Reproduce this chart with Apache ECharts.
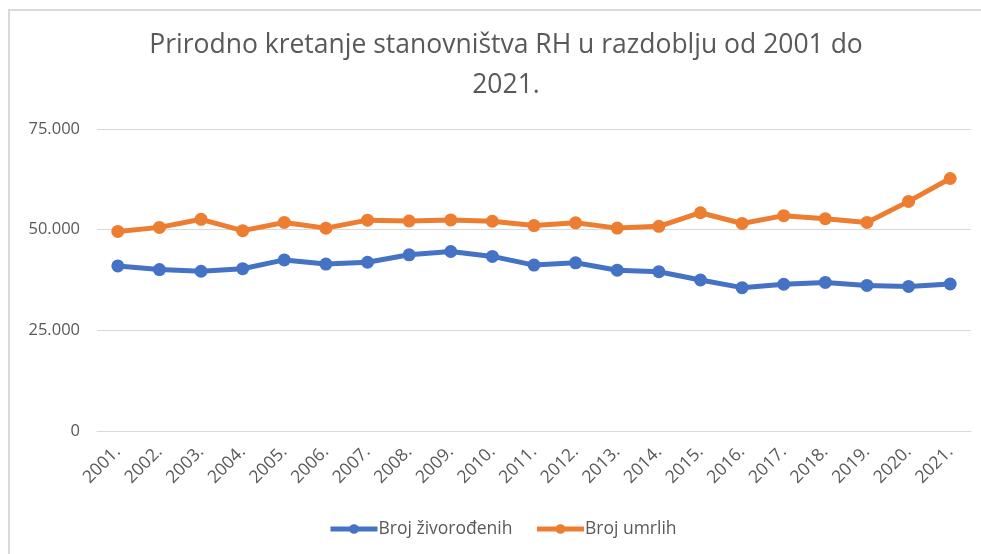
<!DOCTYPE html>
<html>
<head>
<meta charset="utf-8">
<script src="https://cdn.jsdelivr.net/npm/echarts@6/dist/echarts.min.js"></script>
<style>
  html, body { margin: 0; padding: 0; background: #fff; }
  #chart { width: 981px; height: 554px; }
</style>
</head>
<body>
<div id="chart"></div>
<script>
// godine
const years = ['2001.', '2002.', '2003.', '2004.', '2005.', '2006.', '2007.',
  '2008.', '2009.', '2010.', '2011.', '2012.', '2013.', '2014.', '2015.',
  '2016.', '2017.', '2018.', '2019.', '2020.', '2021.'];

// broj živorođenih
const births = [40993, 40094, 39668, 40307, 42492, 41446, 41910, 43753, 44577,
  43361, 41197, 41771, 39939, 39566, 37503, 35600, 36450, 36900, 36150, 35900, 36500];

// broj umrlih
const deaths = [49552, 50569, 52575, 49756, 51790, 50378, 52367, 52151, 52414,
  52096, 51019, 51710, 50386, 50839, 54205, 51542, 53477, 52706, 51794, 57023, 62712];

const seriesNames = ['Broj živorođenih', 'Broj umrlih'];
const titleLines = ['Prirodno kretanje stanovništva RH u razdoblju od 2001 do', '2021.'];

const font = '"Open Sans", "Liberation Sans", sans-serif';
const textColor = '#595959';

const chart = echarts.init(document.getElementById('chart'));

function fmt(v) {
  return v === 0 ? '0' : String(v).replace(/\B(?=(\d{3})+(?!\d))/g, '.');
}

const option = {
  animation: false,
  color: ['#4472C4', '#ED7D31'],
  title: titleLines.map((t, i) => ({
    text: t,
    left: 501,
    top: 27 + i * 40,
    textAlign: 'center',
    textStyle: { fontFamily: font, fontSize: 26.5, fontWeight: 'normal', color: textColor }
  })),
  graphic: [{
    type: 'polyline',
    shape: { points: [[9, 554], [9, 10], [981, 10]] },
    style: { stroke: '#D9D9D9', lineWidth: 2, fill: null }
  }],
  legend: {
    data: seriesNames,
    left: 323,
    top: 515,
    itemWidth: 47,
    itemHeight: 12,
    itemGap: 22,
    lineStyle: { width: 5 },
    textStyle: { fontFamily: font, fontSize: 17.5, color: textColor, padding: [0, 0, 0, -4] }
  },
  grid: { left: 97, right: 10, top: 129, bottom: 123 },
  xAxis: {
    type: 'category',
    data: years,
    boundaryGap: true,
    axisLine: { lineStyle: { color: '#D9D9D9' } },
    axisTick: { show: false },
    axisLabel: {
      rotate: 45,
      margin: 18,
      interval: 0,
      fontFamily: font,
      fontSize: 17.5,
      color: textColor
    }
  },
  yAxis: {
    type: 'value',
    min: 0,
    max: 75000,
    interval: 25000,
    axisLine: { show: false },
    axisTick: { show: false },
    splitLine: { lineStyle: { color: '#D9D9D9', width: 1 } },
    axisLabel: {
      margin: 17,
      fontFamily: font,
      fontSize: 16.5,
      color: textColor,
      formatter: fmt
    }
  },
  series: [
    {
      name: seriesNames[0],
      type: 'line',
      data: births,
      symbol: 'circle',
      symbolSize: 13,
      lineStyle: { width: 5 }
    },
    {
      name: seriesNames[1],
      type: 'line',
      data: deaths,
      symbol: 'circle',
      symbolSize: 13,
      lineStyle: { width: 5 }
    }
  ]
};

chart.setOption(option);
</script>
</body>
</html>
